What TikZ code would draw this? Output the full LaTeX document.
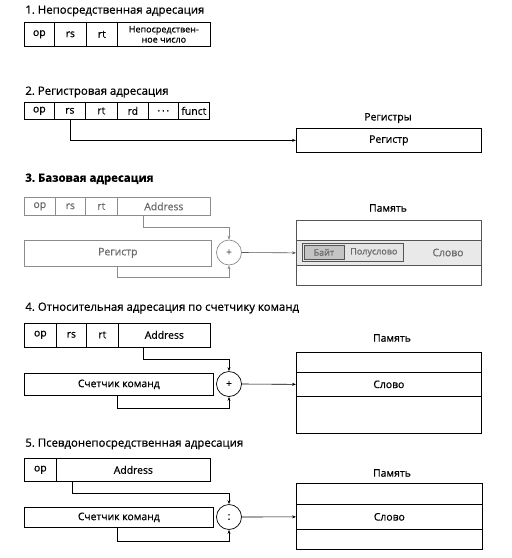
\documentclass[tikz,border=0pt]{standalone}
\usepackage{fontspec}
\setmainfont{Open Sans}[FakeBold=0.7]
\usetikzlibrary{arrows.meta}
\newcommand{\lblf}{\fontsize{10.4}{12}\selectfont}
\newcommand{\ttlf}{\fontsize{11.4}{13}\selectfont}
\newcommand{\smallf}{\fontsize{9}{10.2}\selectfont}
\definecolor{lgray}{HTML}{8C8C8C}
\definecolor{tgray}{HTML}{6A6A6A}
\definecolor{rowgray}{HTML}{E9E9E9}
\definecolor{bytegray}{HTML}{C4C4C4}
\definecolor{memgray}{HTML}{555555}
\begin{document}
\begin{tikzpicture}[x=1pt,y=-1pt,line width=0.7pt,
  box/.style={draw, inner sep=0pt, anchor=north west, font=\lblf},
  gbox/.style={box, draw=lgray, text=tgray},
  ttl/.style={anchor=west, inner sep=0pt, font=\ttlf},
  hdr/.style={anchor=center, inner sep=0pt, font=\lblf},
  sumc/.style={draw, circle, minimum size=25pt, inner sep=0pt, font=\lblf},
  arr/.style={-{Stealth[length=4pt,width=3pt]}},
  conn/.style={arr, line width=0.6pt}]
\useasboundingbox (0,0) rectangle (512,558);

% ---------- 1 ----------
\node[ttl] (t1) at (25,11) {1.~Непосредственная адресация};
\node[box, minimum width=30, minimum height=24] (op1) at (24,22) {op};
\node[box, minimum width=32, minimum height=24] (rs1) at (54,22) {rs};
\node[box, minimum width=31, minimum height=24] (rt1) at (86,22) {rt};
\node[box, minimum width=93, minimum height=24, align=center, font=\smallf] (imm1) at (117,22) {Непосредствен-\\ное число};

% ---------- 2 ----------
\node[ttl] (t2) at (25,92) {2.~Регистровая адресация};
\node[box, minimum width=30, minimum height=17] (op2) at (24,102) {op};
\node[box, minimum width=31, minimum height=17] (rs2) at (54,102) {rs};
\node[box, minimum width=32, minimum height=17] (rt2) at (85,102) {rt};
\node[box, minimum width=31, minimum height=17] (rd2) at (117,102) {rd};
\node[box, minimum width=30, minimum height=17] (dots2) at (148,102) {.\,.\,.};
\node[box, minimum width=31, minimum height=17] (fn2) at (178,102) {funct};
\node[hdr] (regs2) at (388,118) {Регистры};
\node[box, minimum width=185, minimum height=24] (reg2) at (296,128) {Регистр};
\draw[conn] (rs2.south) |- (reg2.west);

% ---------- 3 ----------
\node[ttl, font=\ttlf\bfseries] (t3) at (25,179) {3.~Базовая адресация};
\node[gbox, minimum width=31, minimum height=18] (op3) at (24,197) {op};
\node[gbox, minimum width=30, minimum height=18] (rs3) at (55,197) {rs};
\node[gbox, minimum width=32, minimum height=18] (rt3) at (85,197) {rt};
\node[gbox, minimum width=93, minimum height=18] (ad3) at (117,197) {Address};
\node[gbox, minimum width=187, minimum height=26] (reg3) at (24,239.5) {Регистр};
\node[sumc, draw=lgray, text=tgray] (sum3) at (229,252.5) {+};
\node[hdr] (mem3l) at (388,208) {Память};
\node[box, draw=memgray, minimum width=185, minimum height=20] (m3a) at (296,220) {};
\node[box, draw=memgray, fill=rowgray, minimum width=185, minimum height=25] (m3b) at (296,240) {};
\node[box, draw=memgray, minimum width=185, minimum height=20] (m3c) at (296,265) {};
\node[box, draw=memgray, fill=bytegray!45, minimum width=101, minimum height=18, text=tgray, font=\smallf] (hw3) at (302,243) {\hspace*{42pt}Полуслово};
\node[box, draw=memgray, fill=bytegray, minimum width=40, minimum height=14, text=tgray, font=\smallf] (by3) at (303.5,245) {Байт};
\node[hdr, text=tgray] (w3) at (448,252.5) {Слово};
\coordinate (a3) at (143,215);
\coordinate (b3) at (117,265.5);
\draw[conn, draw=lgray] (a3) -- ++(0,12) -| (sum3.north);
\draw[conn, draw=lgray] (b3) -- ++(0,11.5) -| (sum3.south);
\draw[conn, draw=memgray] (sum3.east) -- (m3b.west);

% ---------- 4 ----------
\node[ttl] (t4) at (25,308) {4.~Относительная адресация по счетчику команд};
\node[box, minimum width=32, minimum height=24] (op4) at (24,322.5) {op};
\node[box, minimum width=30, minimum height=24] (rs4) at (56,322.5) {rs};
\node[box, minimum width=32, minimum height=24] (rt4) at (86,322.5) {rt};
\node[box, minimum width=92, minimum height=24] (ad4) at (118,322.5) {Address};
\node[box, minimum width=189, minimum height=22] (pc4) at (24,373) {Счетчик команд};
\node[sumc] (sum4) at (229,384) {+};
\node[hdr] (mem4l) at (392,338) {Память};
\node[box, minimum width=185, minimum height=20] (m4a) at (296,352) {};
\node[box, minimum width=185, minimum height=24] (m4b) at (296,372) {Слово};
\node[box, minimum width=185, minimum height=37] (m4c) at (296,396) {};
\coordinate (a4) at (143,346.5);
\coordinate (b4) at (117,395);
\draw[conn] (a4) -- ++(0,12.5) -| (sum4.north);
\draw[conn] (b4) -- ++(0,13) -| (sum4.south);
\draw[conn] (sum4.east) -- (m4b.west);

% ---------- 5 ----------
\node[ttl] (t5) at (25,444) {5.~Псевдонепосредственная адресация};
\node[box, minimum width=32, minimum height=23] (op5) at (24,458) {op};
\node[box, minimum width=154, minimum height=23] (ad5) at (56,458) {Address};
\node[box, minimum width=189, minimum height=20] (pc5) at (24,507) {Счетчик команд};
\node[sumc] (sum5) at (229,517) {:};
\node[hdr] (mem5l) at (392,473) {Память};
\node[box, minimum width=186, minimum height=21] (m5a) at (296,483) {};
\node[box, minimum width=186, minimum height=25] (m5b) at (296,504) {Слово};
\node[box, minimum width=186, minimum height=20] (m5c) at (296,529) {};
\coordinate (a5) at (72,481);
\coordinate (b5) at (117,527);
\draw[conn] (a5) -- ++(0,12) -| (sum5.north);
\draw[conn] (b5) -- ++(0,14) -| (sum5.south);
\draw[conn] (sum5.east) -- (m5b.west);
\end{tikzpicture}
\end{document}
